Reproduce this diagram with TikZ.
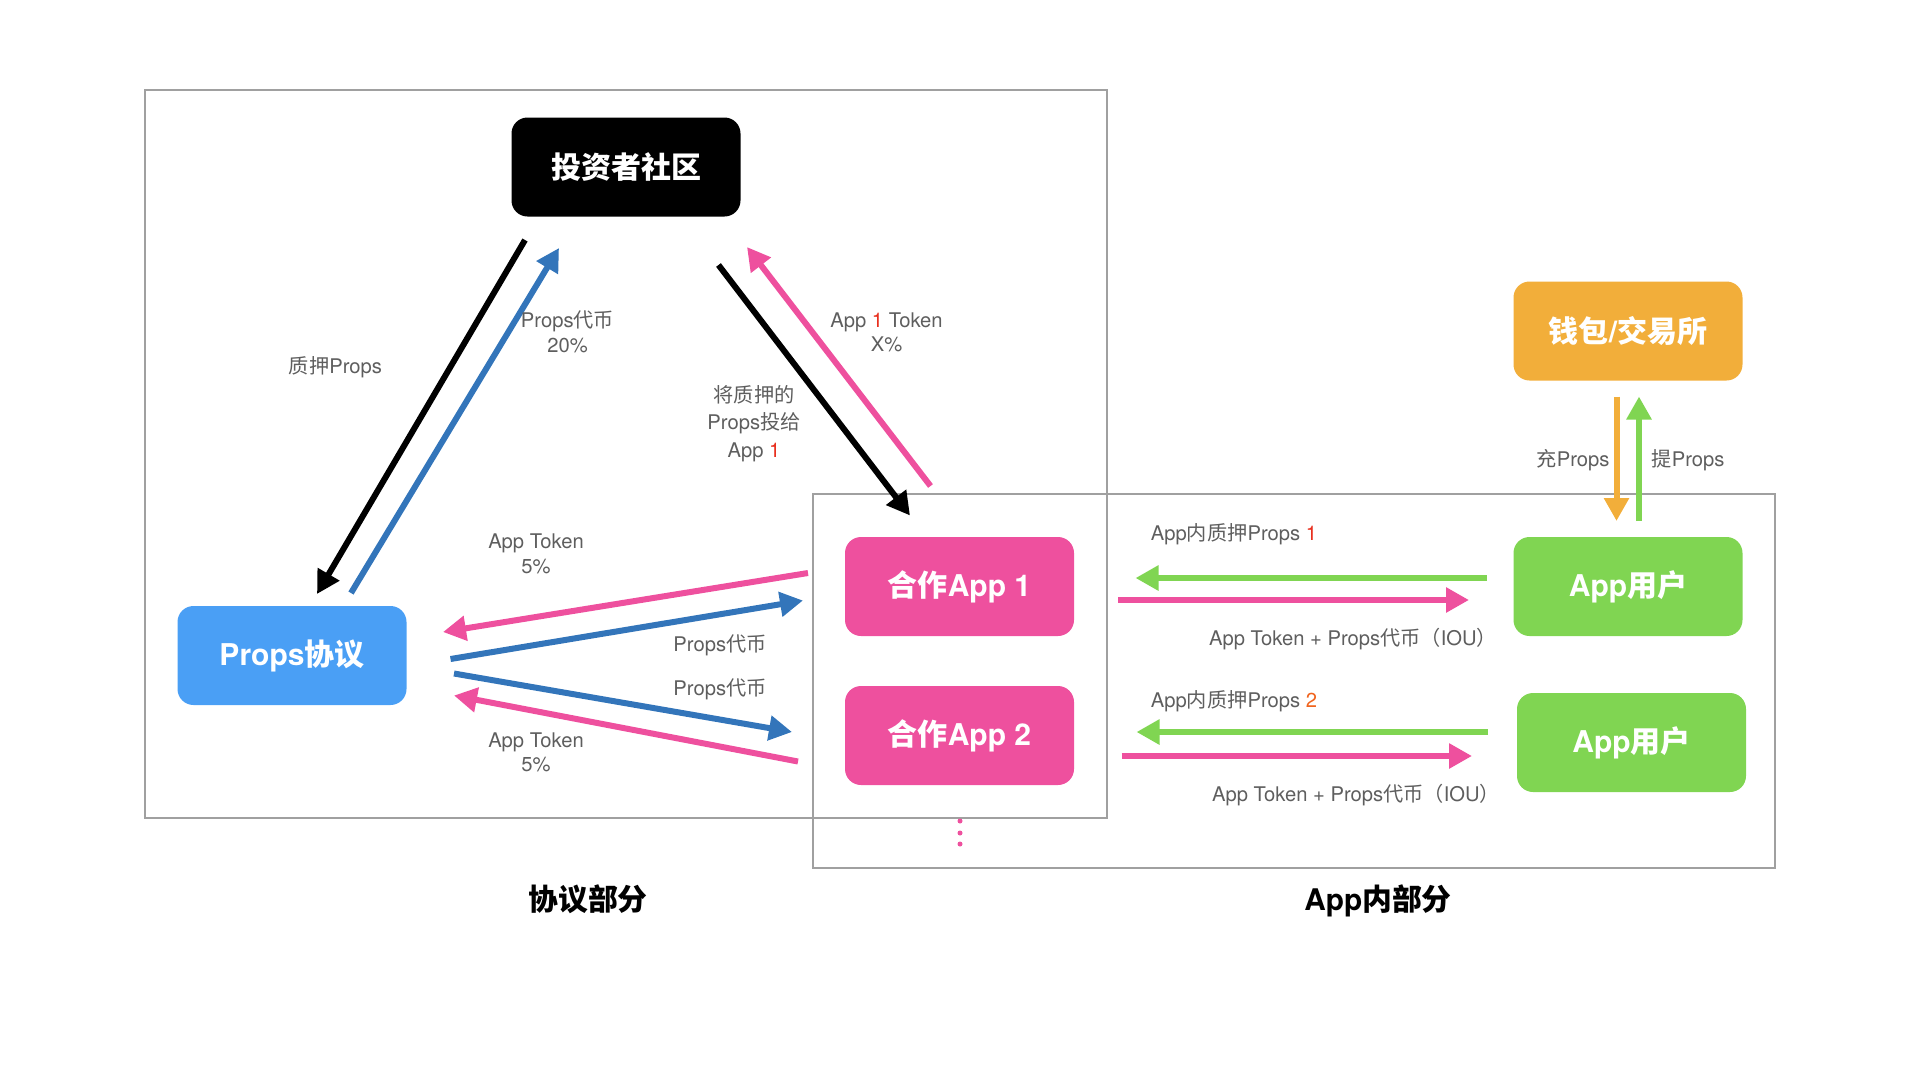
\documentclass[tikz,border=0pt]{standalone}
\usepackage{fontspec}
\setmainfont{TeX Gyre Heros}
\newfontfamily\cjkfont{Noto Sans CJK SC}
\usetikzlibrary{arrows.meta}
\newcommand{\zh}[1]{{\cjkfont #1}}
\definecolor{cpink}{HTML}{EE509E}
\definecolor{cblue}{HTML}{4A9FF5}
\definecolor{carrow}{HTML}{3375BA}
\definecolor{cgreen}{HTML}{80D552}
\definecolor{corange}{HTML}{F2AE3A}
\definecolor{ctext}{HTML}{5E5E5E}
\definecolor{cframe}{HTML}{A0A0A0}
\definecolor{cred}{HTML}{E8301F}
\definecolor{cred2}{HTML}{F0641E}
\tikzset{
	boxnode/.style={rounded corners=16pt, minimum width=229pt, minimum height=99pt, inner sep=0pt,
		text=white, font=\fontsize{30}{34}\selectfont\bfseries},
	labeltext/.style={text=ctext, align=center, inner sep=0pt, font=\fontsize{20.2}{26.5}\selectfont},
	titletext/.style={text=black, inner sep=0pt, font=\fontsize{29.8}{34}\selectfont\bfseries},
	framebox/.style={draw=cframe, line width=2pt},
	flow/.style={line width=6pt, ->},
}
\begin{document}
\begin{tikzpicture}[x=1pt,y=-1pt,>={Triangle[length=23pt,width=24pt]}]
	\useasboundingbox (0,0) rectangle (1920,1080);
	\path
	(525,240) coordinate (A1)
	(317,594) coordinate (A2)
	(351,593) coordinate (B1)
	(559,248) coordinate (B2)
	(718.5,265) coordinate (C1)
	(910,515.5) coordinate (C2)
	(930.5,486) coordinate (D1)
	(747,247) coordinate (D2)
	(808,573) coordinate (E1)
	(443,632) coordinate (E2)
	(450.5,659) coordinate (F1)
	(803,600.5) coordinate (F2)
	(454,673.5) coordinate (G1)
	(792,732) coordinate (G2)
	(798,761.5) coordinate (H1)
	(454,695.5) coordinate (H2)
	(1486.5,578) coordinate (I1)
	(1135.5,578) coordinate (I2)
	(1118,600) coordinate (J1)
	(1469,600) coordinate (J2)
	(1488,732) coordinate (K1)
	(1136.5,732) coordinate (K2)
	(1121.5,756) coordinate (L1)
	(1472,756) coordinate (L2)
	(1616.5,396.5) coordinate (M1)
	(1616.5,521) coordinate (M2)
	(1639,521) coordinate (N1)
	(1639,396.5) coordinate (N2)
	;
	\draw[framebox] (145,90) rectangle (1107,818);
	\draw[framebox] (813,494) rectangle (1775,868);
	\node[boxnode, fill=black] (investor) at (626,167) {\zh{投资者社区}};
	\node[boxnode, fill=cblue] (props) at (292,655.5) {Props\zh{协议}};
	\node[boxnode, fill=cpink] (app1) at (959.5,586.5) {\zh{合作}App 1};
	\node[boxnode, fill=cpink] (app2) at (959.5,735.5) {\zh{合作}App 2};
	\node[boxnode, fill=cgreen] (user1) at (1628,586.5) {App\zh{用户}};
	\node[boxnode, fill=cgreen] (user2) at (1631.5,742.5) {App\zh{用户}};
	\node[boxnode, fill=corange] (wallet) at (1628,331) {\zh{钱包}/\zh{交易所}};
	\draw[flow, black] (A1) -- (A2);
	\draw[flow, carrow] (B1) -- (B2);
	\draw[flow, black] (C1) -- (C2);
	\draw[flow, cpink] (D1) -- (D2);
	\draw[flow, cpink] (E1) -- (E2);
	\draw[flow, carrow] (F1) -- (F2);
	\draw[flow, carrow] (G1) -- (G2);
	\draw[flow, cpink] (H1) -- (H2);
	\draw[flow, cgreen] (I1) -- (I2);
	\draw[flow, cpink] (J1) -- (J2);
	\draw[flow, cgreen] (K1) -- (K2);
	\draw[flow, cpink] (L1) -- (L2);
	\draw[flow, corange] (M1) -- (M2);
	\draw[flow, cgreen] (N1) -- (N2);
	\foreach \y in {821,833,844}
	\fill[cpink] (960,\y) circle (2.5);
	\node[labeltext] (stake) at (335.5,367) {\zh{质押}Props};
	\node[labeltext] (reward) at (567.5,332) {Props\zh{代币}\\[-1pt]20\%};
	\node[labeltext] (token) at (886.5,332.5) {App {\color{cred}1} Token\\[-2pt]X\%};
	\node[labeltext] (vote) at (754,423.5) {\zh{将质押的}\\[1pt]Props\zh{投给}\\[1pt]App {\color{cred}1}};
	\node[labeltext] (feea) at (536,554) {App Token\\[-2pt]5\%};
	\node[labeltext] (feeb) at (536,752.5) {App Token\\[-3pt]5\%};
	\node[labeltext] (coina) at (720,645) {Props\zh{代币}};
	\node[labeltext] (coinb) at (720,689.5) {Props\zh{代币}};
	\node[labeltext] (inapp1) at (1234,534.5) {App\zh{内质押}Props {\color{cred}1}};
	\node[labeltext] (inapp2) at (1234,701) {App\zh{内质押}Props {\color{cred2}2}};
	\node[labeltext] (iou1) at (1353,639.5) {App Token + Props\zh{代币（}IOU\zh{）}};
	\node[labeltext] (iou2) at (1356,795) {App Token + Props\zh{代币（}IOU\zh{）}};
	\node[labeltext] (deposit) at (1573,460) {\zh{充}Props};
	\node[labeltext] (withdraw) at (1688,460) {\zh{提}Props};
	\node[titletext] (protocol) at (588,899.5) {\zh{协议部分}};
	\node[titletext] (inapp) at (1378,900.5) {App\zh{内部分}};
\end{tikzpicture}
\end{document}
